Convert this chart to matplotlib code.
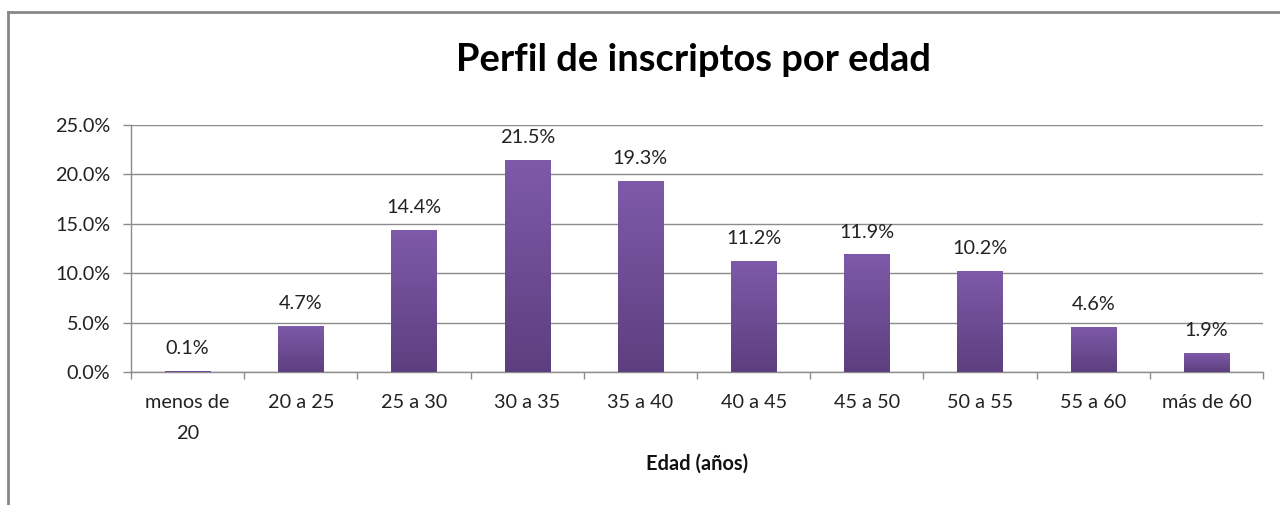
import numpy as np
import matplotlib
matplotlib.use("Agg")
import matplotlib.pyplot as plt
from matplotlib.colors import LinearSegmentedColormap
from matplotlib.lines import Line2D

# Datos
categorias = ["menos de\n20", "20 a 25", "25 a 30", "30 a 35", "35 a 40",
              "40 a 45", "45 a 50", "50 a 55", "55 a 60", "más de 60"]
porcentajes = [0.1, 4.7, 14.4, 21.5, 19.3, 11.2, 11.9, 10.2, 4.6, 1.9]
yticks = [0, 5, 10, 15, 20, 25]

plt.rcParams['font.family'] = ['Lato', 'DejaVu Sans']

fig = plt.figure(figsize=(12.8, 5.05), dpi=100)
ax = fig.add_axes([131 / 1280, 1 - 372 / 505, (1263 - 131) / 1280, (372 - 125) / 505])

x = np.arange(len(categorias))
ancho = 0.4
barras = ax.bar(x, porcentajes, width=ancho, color="none", edgecolor="none", zorder=3)

# degradado vertical de las barras
cmap = LinearSegmentedColormap.from_list("morado", ["#5d3f7f", "#7e5aa9"])
grad = np.linspace(0, 1, 256).reshape(-1, 1)
for b in barras:
    x0, y0 = b.get_x(), b.get_y()
    w, h = b.get_width(), b.get_height()
    im = ax.imshow(grad, cmap=cmap, origin="lower", aspect="auto",
                   extent=[x0, x0 + w, y0, y0 + h], zorder=3)
    im.set_clip_path(b)

for xi, v in zip(x, porcentajes):
    ax.annotate(f"{v:.1f}%", (xi, v), xytext=(0, 10), textcoords="offset points",
                ha="center", va="bottom", fontsize=14.3, color="#222222")

ax.set_xlim(-0.5, len(categorias) - 0.5)
ax.set_ylim(0, 25)
ax.set_yticks(yticks)
ax.set_yticklabels([f"{t:.1f}%" for t in yticks], fontsize=14.3, color="#222222")
ax.yaxis.grid(True, color="#8c8c8c", linewidth=1, zorder=0)
ax.set_axisbelow(True)

ax.set_xticks(x)
ax.set_xticklabels(categorias, fontsize=14.3, color="#222222", linespacing=2.0)
ax.set_xticks(np.arange(len(categorias) + 1) - 0.5, minor=True)
ax.tick_params(axis="x", which="major", length=0, pad=16)
ax.tick_params(axis="x", which="minor", length=5, color="#8c8c8c", width=1)
ax.tick_params(axis="y", length=5.8, color="#8c8c8c", width=1, pad=9)

for s in ["top", "right"]:
    ax.spines[s].set_visible(False)
for s in ["left", "bottom"]:
    ax.spines[s].set_color("#8c8c8c")
    ax.spines[s].set_linewidth(1)

ax.set_xlabel("Edad (años)", fontsize=14.4, fontweight="bold", labelpad=8, color="#111111")

fig.text(693 / 1280, 1 - 60 / 505, "Perfil de inscriptos por edad", ha="center", va="center",
         fontsize=27.4, fontweight="bold", color="black")

# marco del gráfico
fig.add_artist(Line2D([8 / 1280, 8 / 1280], [0, 1 - 12 / 505], transform=fig.transFigure,
                      color="#878787", linewidth=2))
fig.add_artist(Line2D([8 / 1280, 1], [1 - 12 / 505, 1 - 12 / 505], transform=fig.transFigure,
                      color="#878787", linewidth=2))

fig.savefig("out.png", dpi=100, facecolor="white")
